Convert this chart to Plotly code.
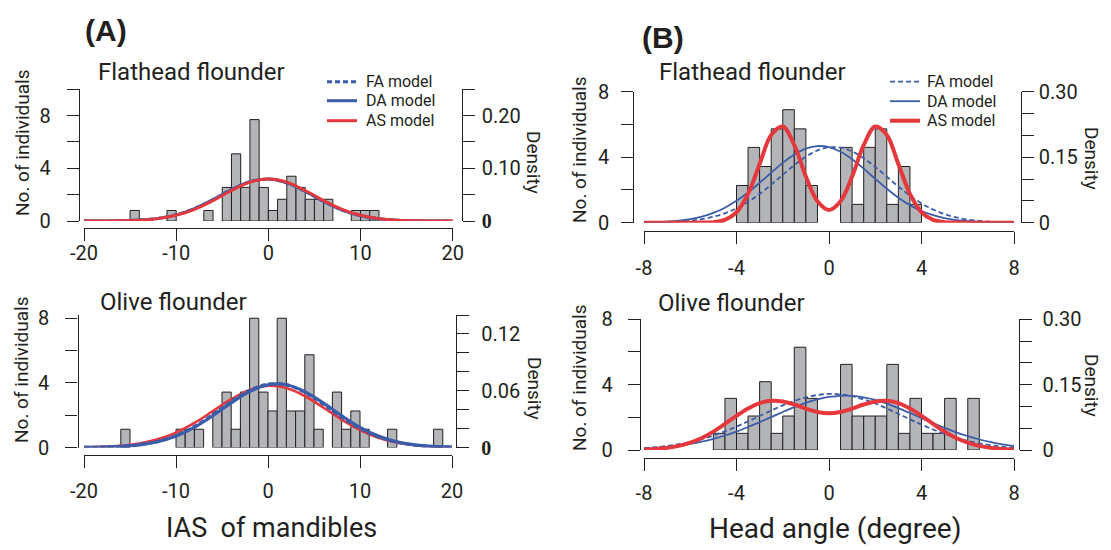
import plotly.graph_objects as go

# page body has an 8px default margin -> figure is drawn offset by 8px
OFF = 8
W, H = 1111, 550
FW, FH = W - OFF, H - OFF
INK = "#231f20"
GRAY = "#b3b5b8"
BLUE = "#3b5ca8"
RED = "#e5383d"
FONT = "Roboto"

# ---------------- data ----------------
# Panel A: IAS of mandibles (bin width 1)
ias_bin_width = 1.0
ias_flathead_bin_left = [-15, -11, -7, -5, -4, -3, -2, -1, 0, 1, 2, 3, 4, 5, 6, 9, 10, 11]
ias_flathead_height = [0.8, 0.8, 0.8, 2.55, 5.1, 2.55, 7.7, 2.55, 0.8, 1.65, 3.4, 2.55,
                       1.65, 1.65, 1.65, 0.8, 0.8, 0.8]
ias_olive_bin_left = [-16, -10, -9, -8, -6, -5, -4, -3, -2, -1, 0, 1, 2, 3, 4, 5, 7, 8, 9, 10, 13, 18]
ias_olive_height = [1.13, 1.13, 1.13, 1.13, 2.26, 3.43, 1.13, 3.43, 8.0, 3.43, 2.26, 8.0,
                    2.26, 2.26, 5.74, 1.13, 3.43, 1.13, 2.26, 1.13, 1.13, 1.13]

# model density curves, panel A (read at x = -20..20)
ias_x = [-20, -18, -16, -14, -12, -10, -8, -6, -4, -2, 0, 2, 4, 6, 8, 10, 12, 14, 16, 18, 20]
ias_flathead_fa = [0.0000, 0.0001, 0.0005, 0.0018, 0.0050, 0.0119, 0.0237, 0.0407, 0.0596, 0.0744, 0.0795,
                   0.0726, 0.0563, 0.0372, 0.0209, 0.0101, 0.0041, 0.0014, 0.0004, 0.0001, 0.0000]
ias_flathead_da = [0.0000, 0.0001, 0.0005, 0.0018, 0.0049, 0.0117, 0.0236, 0.0407, 0.0598, 0.0748, 0.0797,
                   0.0724, 0.0561, 0.0370, 0.0208, 0.0100, 0.0041, 0.0014, 0.0004, 0.0001, 0.0000]
ias_flathead_as = [0.0000, 0.0001, 0.0005, 0.0016, 0.0045, 0.0108, 0.0222, 0.0388, 0.0579, 0.0737, 0.0798,
                   0.0737, 0.0579, 0.0388, 0.0222, 0.0108, 0.0045, 0.0016, 0.0005, 0.0001, 0.0000]
ias_olive_fa = [0.0001, 0.0004, 0.0012, 0.0029, 0.0064, 0.0126, 0.0222, 0.0348, 0.0485, 0.0604, 0.0670,
                0.0662, 0.0584, 0.0459, 0.0321, 0.0201, 0.0112, 0.0055, 0.0024, 0.0010, 0.0003]
ias_olive_da = [0.0001, 0.0004, 0.0011, 0.0028, 0.0061, 0.0121, 0.0213, 0.0336, 0.0472, 0.0591, 0.0663,
                0.0663, 0.0591, 0.0472, 0.0336, 0.0213, 0.0121, 0.0061, 0.0028, 0.0011, 0.0004]
ias_olive_as = [0.0003, 0.0007, 0.0018, 0.0042, 0.0086, 0.0157, 0.0259, 0.0384, 0.0510, 0.0609, 0.0653,
                0.0629, 0.0544, 0.0423, 0.0295, 0.0185, 0.0104, 0.0053, 0.0024, 0.0010, 0.0004]

# Panel B: head angle (bin width 0.5)
ha_bin_width = 0.5
ha_flathead_bin_left = [-4, -3.5, -3, -2.5, -2, -1.5, -1, 0.5, 1, 1.5, 2, 2.5, 3, 3.5]
ha_flathead_height = [2.27, 4.6, 3.43, 5.73, 6.9, 5.73, 2.27, 4.6, 1.12, 4.6, 5.73, 1.12, 3.43, 1.12]
ha_olive_bin_left = [-5, -4.5, -4, -3.5, -3, -2.5, -2, -1.5, -1, 0.5, 1, 1.5, 2, 2.5, 3, 3.5, 4, 4.5, 5, 6]
ha_olive_height = [1.02, 3.16, 1.02, 2.08, 4.18, 1.02, 2.08, 6.29, 3.16, 5.24, 2.08, 2.08, 2.08, 5.24,
                   1.02, 3.16, 1.02, 1.02, 3.16, 3.16]

ha_x = [-8, -7.5, -7, -6.5, -6, -5.5, -5, -4.5, -4, -3.5, -3, -2.5, -2, -1.5, -1, -0.5, 0,
        0.5, 1, 1.5, 2, 2.5, 3, 3.5, 4, 4.5, 5, 5.5, 6, 6.5, 7, 7.5, 8]
ha_flathead_fa = [0.0003, 0.0006, 0.0013, 0.0025, 0.0046, 0.0080, 0.0135, 0.0215, 0.0327, 0.0475, 0.0659,
                  0.0871, 0.1097, 0.1320, 0.1513, 0.1656, 0.1727, 0.1719, 0.1632, 0.1478, 0.1276, 0.1052,
                  0.0827, 0.0620, 0.0443, 0.0302, 0.0196, 0.0122, 0.0072, 0.0041, 0.0022, 0.0011, 0.0006]
ha_flathead_da = [0.0006, 0.0013, 0.0026, 0.0047, 0.0084, 0.0141, 0.0226, 0.0344, 0.0500, 0.0691, 0.0912,
                  0.1145, 0.1370, 0.1562, 0.1697, 0.1755, 0.1730, 0.1624, 0.1453, 0.1238, 0.1005, 0.0777,
                  0.0572, 0.0402, 0.0268, 0.0171, 0.0104, 0.0060, 0.0033, 0.0017, 0.0009, 0.0004, 0.0002]
ha_flathead_as = [0.0000, 0.0000, 0.0000, 0.0000, 0.0000, 0.0002, 0.0012, 0.0063, 0.0239, 0.0661, 0.1344,
                  0.2008, 0.2202, 0.1774, 0.1056, 0.0490, 0.0292, 0.0490, 0.1056, 0.1774, 0.2202, 0.2008,
                  0.1344, 0.0661, 0.0239, 0.0063, 0.0012, 0.0002, 0.0000, 0.0000, 0.0000, 0.0000, 0.0000]
ha_olive_fa = [0.0042, 0.0064, 0.0093, 0.0133, 0.0186, 0.0252, 0.0333, 0.0428, 0.0537, 0.0656, 0.0780,
               0.0905, 0.1023, 0.1126, 0.1208, 0.1263, 0.1286, 0.1276, 0.1234, 0.1162, 0.1067, 0.0954,
               0.0831, 0.0705, 0.0583, 0.0470, 0.0369, 0.0282, 0.0210, 0.0153, 0.0108, 0.0075, 0.0050]
ha_olive_da = [0.0031, 0.0047, 0.0069, 0.0099, 0.0139, 0.0191, 0.0255, 0.0333, 0.0424, 0.0527, 0.0639,
               0.0756, 0.0873, 0.0984, 0.1083, 0.1162, 0.1217, 0.1244, 0.1241, 0.1208, 0.1148, 0.1064,
               0.0963, 0.0850, 0.0733, 0.0616, 0.0506, 0.0405, 0.0316, 0.0241, 0.0180, 0.0130, 0.0092]
ha_olive_as = [0.0010, 0.0023, 0.0049, 0.0094, 0.0167, 0.0276, 0.0422, 0.0599, 0.0785, 0.0954, 0.1076,
               0.1131, 0.1115, 0.1044, 0.0950, 0.0874, 0.0844, 0.0874, 0.0950, 0.1044, 0.1115, 0.1131,
               0.1076, 0.0954, 0.0785, 0.0599, 0.0422, 0.0276, 0.0167, 0.0094, 0.0049, 0.0023, 0.0010]

model_names = ["FA model", "DA model", "AS model"]

ias_ticks = [-20, -10, 0, 10, 20]
ha_ticks = [-8, -4, 0, 4, 8]
count_ticks_a_top = [0, 2, 4, 6, 8, 10]
count_ticks = [0, 2, 4, 6, 8]
dens_ticks_a_top = [0, 0.05, 0.10, 0.15, 0.20, 0.25]
dens_ticks_a_bot = [0, 0.02, 0.04, 0.06, 0.08, 0.10, 0.12, 0.14]
dens_ticks_b = [0, 0.05, 0.10, 0.15, 0.20, 0.25, 0.30]

# ---------------- helpers ----------------
def px(x):
    return (x - OFF) / FW

def py(y):
    return 1 - (y - OFF) / FH

BOLD0 = "<b><span style=\"font-family:'Liberation Serif'\">0</span></b>"

fig = go.Figure()

def line_styles(lw_blue, lw_red):
    return [dict(color=BLUE, width=lw_blue, dash="5px,3px"),
            dict(color=BLUE, width=lw_blue),
            dict(color=RED, width=lw_red)]

def add_panel(n, bin_left, heights, bw, cx, fa, da, as_, lw_blue, lw_red, red_last=True):
    xa = "x" if n == 1 else f"x{n}"
    ya = "y" if n == 1 else f"y{n}"
    ya2 = f"y{n + 1}"
    centers = [b + bw / 2 for b in bin_left]
    fig.add_trace(go.Bar(x=centers, y=heights, width=bw, xaxis=xa, yaxis=ya,
                         marker=dict(color=GRAY, line=dict(color=INK, width=1)),
                         showlegend=False, hoverinfo="skip"))
    styles = line_styles(lw_blue, lw_red)
    curves = list(zip(model_names, [fa, da, as_], styles))
    order = curves if red_last else [curves[2], curves[0], curves[1]]
    for name, vals, ln in order:
        ln = dict(ln, shape="spline", smoothing=1.0)
        fig.add_trace(go.Scatter(x=cx, y=vals, mode="lines", name=name, line=ln,
                                 xaxis=xa, yaxis=ya2, showlegend=False, hoverinfo="skip"))

add_panel(1, ias_flathead_bin_left, ias_flathead_height, ias_bin_width, ias_x,
          ias_flathead_fa, ias_flathead_da, ias_flathead_as, 3, 3)
add_panel(3, ias_olive_bin_left, ias_olive_height, ias_bin_width, ias_x,
          ias_olive_fa, ias_olive_da, ias_olive_as, 3.2, 2.6, red_last=False)
add_panel(5, ha_flathead_bin_left, ha_flathead_height, ha_bin_width, ha_x,
          ha_flathead_fa, ha_flathead_da, ha_flathead_as, 1.8, 4)
add_panel(7, ha_olive_bin_left, ha_olive_height, ha_bin_width, ha_x,
          ha_olive_fa, ha_olive_da, ha_olive_as, 1.8, 4)

tickfont = dict(family=FONT, size=20, color=INK)

def xax(dom, pos, rng, tv, standoff):
    return dict(domain=[px(dom[0]), px(dom[1])], range=rng, anchor="free", position=py(pos),
                showline=True, linecolor=INK, linewidth=1.3, ticks="outside", ticklen=12,
                tickwidth=1.3, tickcolor=INK, tickvals=tv, ticktext=[str(v) for v in tv],
                showgrid=False, zeroline=False, tickfont=tickfont, automargin=False,
                ticklabelstandoff=standoff, fixedrange=True)

def yax(dom, pos, rng, tv, text, standoff, side="left", overlay=None):
    d = dict(range=rng, anchor="free", position=px(pos), side=side,
             showline=True, linecolor=INK, linewidth=1.3, ticks="outside", ticklen=12,
             tickwidth=1.3, tickcolor=INK, tickvals=tv, ticktext=text,
             showgrid=False, zeroline=False, tickfont=tickfont, automargin=False,
             ticklabelstandoff=standoff, fixedrange=True)
    if overlay:
        d["overlaying"] = overlay
    else:
        d["domain"] = [py(dom[0]), py(dom[1])]
    return d

lab = lambda ticks, shown, fmt: [fmt(v) if v in shown else "" for v in ticks]

layout = dict(
    width=FW, height=FH, margin=dict(l=0, r=0, t=0, b=0, autoexpand=False),
    paper_bgcolor="white", plot_bgcolor="white", barmode="overlay", showlegend=False,
    font=dict(family=FONT, color=INK),
    # Panel A top
    xaxis=xax((84, 452.7), 227.7, [-20, 20], ias_ticks, -5),
    yaxis=yax((221, 89.3), 79, [0, 10], count_ticks_a_top,
              lab(count_ticks_a_top, [0, 4, 8], lambda v: str(v)), 12),
    yaxis2=yax(None, 461.7, [0, 0.25], dens_ticks_a_top,
               lab(dens_ticks_a_top, [0, 0.10, 0.20], lambda v: BOLD0 if v == 0 else f"{v:.2f}"),
               3, side="right", overlay="y"),
    # Panel A bottom
    xaxis3=xax((84, 452), 455, [-20, 20], ias_ticks, 6),
    yaxis3=yax((447.5, 315), 77.5, [0, 8.2], count_ticks,
               lab(count_ticks, [0, 4, 8], lambda v: str(v)), 12),
    yaxis4=yax(None, 456, [0, 0.14], dens_ticks_a_bot,
               lab(dens_ticks_a_bot, [0, 0.06, 0.12], lambda v: BOLD0 if v == 0 else f"{v:.2f}"),
               8, side="right", overlay="y3"),
    # Panel B top
    xaxis5=xax((644, 1014), 230.7, [-8, 8], ha_ticks, 7),
    yaxis5=yax((222.7, 91.7), 633.3, [0, 8], count_ticks,
               lab(count_ticks, [0, 4, 8], lambda v: str(v)), 8),
    yaxis6=yax(None, 1020.7, [0, 0.30], dens_ticks_b,
               lab(dens_ticks_b, [0, 0.15, 0.30], lambda v: "0" if v == 0 else f"{v:.2f}"),
               1, side="right", overlay="y5"),
    # Panel B bottom
    xaxis7=xax((644, 1014), 458.3, [-8, 8], ha_ticks, 5),
    yaxis7=yax((450, 319.3), 640, [0, 8], count_ticks,
               lab(count_ticks, [0, 4, 8], lambda v: str(v)), 11),
    yaxis8=yax(None, 1019.3, [0, 0.30], dens_ticks_b,
               lab(dens_ticks_b, [0, 0.15, 0.30], lambda v: "0" if v == 0 else f"{v:.2f}"),
               6, side="right", overlay="y7"),
)
fig.update_layout(**layout)

def ann(text, x, y, size, angle=0, bold=False, family=FONT, xanchor="center"):
    fig.add_annotation(text=f"<b>{text}</b>" if bold else text, x=px(x), y=py(y),
                       xref="paper", yref="paper", showarrow=False, textangle=angle,
                       xanchor=xanchor, yanchor="middle",
                       font=dict(family=family, size=size, color=INK))

# legends (line samples + labels)
def legend_block(x0, x1, xt, ys, styles):
    for name, y, st in zip(model_names, ys, styles):
        fig.add_shape(type="line", xref="paper", yref="paper",
                      x0=px(x0), x1=px(x1), y0=py(y), y1=py(y),
                      line=dict(color=st["color"], width=st["width"], dash=st.get("dash", "solid")))
        ann(name, xt, y, 16, xanchor="left")

legend_block(327, 357, 364, [81.7, 100.7, 120.7], line_styles(3, 3))
legend_block(890, 920, 925, [81.7, 101.2, 120.7], line_styles(1.8, 4))

ann("(A)", 106, 31, 30, bold=True, family="Liberation Sans")
ann("(B)", 663, 37, 30, bold=True, family="Liberation Sans")
ann("Flathead flounder", 191, 72, 24)
ann("Olive flounder", 173, 302, 24)
ann("Flathead flounder", 752, 72, 24)
ann("Olive flounder", 731, 303, 24)
ann("No. of individuals", 22, 143, 19, angle=-90)
ann("No. of individuals", 22, 370, 19, angle=-90)
ann("No. of individuals", 579, 150, 19, angle=-90)
ann("No. of individuals", 579, 378, 19, angle=-90)
ann("Density", 533, 162, 19, angle=90)
ann("Density", 535, 388, 19, angle=90)
ann("Density", 1092, 158, 19, angle=90)
ann("Density", 1092, 385, 19, angle=90)
ann("IAS&nbsp;&nbsp;of mandibles", 271, 528, 27)
ann("Head angle (degree)", 835, 528, 28)

fig.write_html("out.html")
